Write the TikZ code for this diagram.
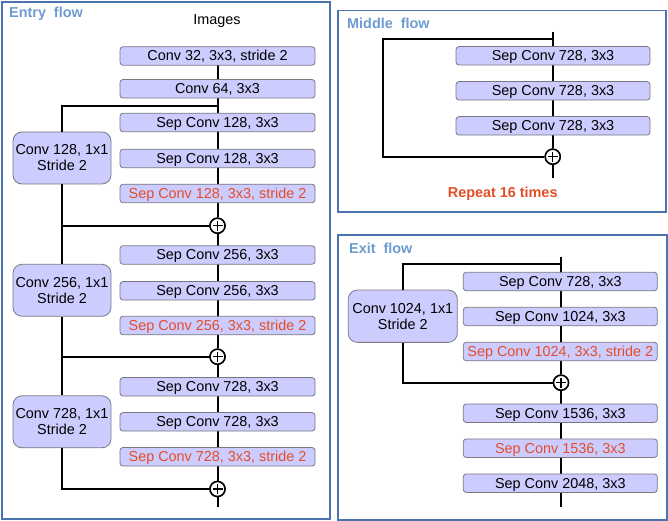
\documentclass[tikz,border=0pt]{standalone}
\usepackage{fontspec}
\setmainfont{Liberation Sans}
\definecolor{boxfill}{RGB}{204,204,255}
\definecolor{boxline}{RGB}{120,120,130}
\definecolor{redtxt}{RGB}{228,78,38}
\definecolor{titletxt}{RGB}{110,155,210}
\definecolor{framecol}{RGB}{75,115,175}
\begin{document}
\begin{tikzpicture}[x=1pt,y=-1pt,
  every node/.style={font=\fontsize{14.4}{16}\selectfont, inner sep=0pt},
  conv/.style={draw=boxline, fill=boxfill, line width=0.8pt, rounded corners=3pt, minimum width=195pt, minimum height=18.5pt, text height=10.4pt, text depth=0.5pt},
  res/.style={draw=boxline, fill=boxfill, line width=0.8pt, rounded corners=9pt, minimum height=52pt, align=center},
  red/.style={text=redtxt},
  plusnode/.style={circle, draw=black, fill=white, line width=1.5pt, minimum size=15pt,
    path picture={\draw[line width=1.2pt] ([yshift=-5pt]path picture bounding box.center) -- ([yshift=5pt]path picture bounding box.center)
      ([xshift=-5pt]path picture bounding box.center) -- ([xshift=5pt]path picture bounding box.center);}},
  conn/.style={line width=2pt, black},
  frame/.style={draw=framecol, line width=1.5pt},
  ttl/.style={text=titletxt, font=\fontsize{14.4}{16}\selectfont\bfseries, anchor=west}
]
\useasboundingbox (0,0) rectangle (668,521);
% frames
\draw[frame] (2,2) rectangle (330,519);
\draw[frame] (338,10.7) rectangle (666,212);
\draw[frame] (338,235) rectangle (667,520);
\node[ttl] (t1) at (9,13.5) {Entry\ \ flow};
\node[ttl] (t2) at (347,23) {Middle\ \ flow};
\node[ttl] (t3) at (349,248) {Exit\ \ flow};

% ---------- Entry flow ----------
\node (img) at (217,21) {Images};
\coordinate (b1) at (217.5,106);
\coordinate (e1) at (217.5,506.7);
\node[plusnode] (p1) at (217.5,225.7) {};
\node[plusnode] (p2) at (217.5,356.7) {};
\node[plusnode] (p3) at (217.5,489) {};

\draw[conn] (217.5,56) -- (b1) -- (217.5,158.5) -- (p1) -- (217.5,290.8) -- (p2) -- (217.5,421.8) -- (p3) -- (e1);

\node[res, minimum width=98pt] (r1) at (62,158) {Conv 128, 1x1\\Stride 2};
\node[res, minimum width=98pt] (r2) at (62,290.3) {Conv 256, 1x1\\Stride 2};
\node[res, minimum width=98pt] (r3) at (62,421.8) {Conv 728, 1x1\\Stride 2};

\draw[conn] (b1) -| (r1.north);
\draw[conn] (r1.south) |- (p1.west);
\draw[conn] (r1.south |- p1) -- (r2.north);
\draw[conn] (r2.south) |- (p2.west);
\draw[conn] (r2.south |- p2) -- (r3.north);
\draw[conn] (r3.south) |- (p3.west);

\node[conv] (c32) at (217.5,56) {Conv 32, 3x3, stride 2};
\node[conv] (c64) at (217.5,88.8) {Conv 64, 3x3};
\node[conv] (s128a) at (217.5,122.5) {Sep Conv 128, 3x3};
\node[conv] (s128b) at (217.5,158.5) {Sep Conv 128, 3x3};
\node[conv, red] (s128c) at (217.5,193.5) {Sep Conv 128, 3x3, stride 2};
\node[conv] (s256a) at (217.5,255) {Sep Conv 256, 3x3};
\node[conv] (s256b) at (217.5,290.8) {Sep Conv 256, 3x3};
\node[conv, red] (s256c) at (217.5,325.5) {Sep Conv 256, 3x3, stride 2};
\node[conv] (s728a) at (217.5,386.8) {Sep Conv 728, 3x3};
\node[conv] (s728b) at (217.5,421.8) {Sep Conv 728, 3x3};
\node[conv, red] (s728c) at (217.5,456.8) {Sep Conv 728, 3x3, stride 2};
\node[plusnode] at (p1) {};
\node[plusnode] at (p2) {};
\node[plusnode] at (p3) {};

% ---------- Middle flow ----------
\coordinate (mt) at (552.7,31.7);
\coordinate (mb) at (552.7,39);
\coordinate (ml) at (382.7,39);
\coordinate (me) at (552.7,178);
\node[plusnode] (mp) at (552.7,156.7) {};
\draw[conn] (mt) -- (mb) -- (mp) -- (me);
\draw[conn] (mb) -- (ml) |- (mp.west);
\node[conv, minimum width=194pt] (m1) at (553,55.8) {Sep Conv 728, 3x3};
\node[conv, minimum width=194pt] (m2) at (553,90.8) {Sep Conv 728, 3x3};
\node[conv, minimum width=194pt] (m3) at (553,125.8) {Sep Conv 728, 3x3};
\node[plusnode] at (mp) {};
\node[text=redtxt, font=\fontsize{14.4}{16}\selectfont\bfseries] (rep) at (502.7,193.3) {Repeat 16 times};

% ---------- Exit flow ----------
\coordinate (xt) at (561,256.7);
\coordinate (xb) at (561,264.3);
\coordinate (xe) at (561,506.7);
\node[plusnode] (xp) at (561,382.7) {};
\draw[conn] (xt) -- (xb) -- (xp) -- (xe);
\node[res, minimum width=109pt, minimum height=52.3pt] (xr) at (402.8,316.2) {Conv 1024, 1x1\\Stride 2};
\draw[conn] (xb) -| (xr.north);
\draw[conn] (xr.south) |- (xp.west);
\node[conv, minimum width=194pt] (x1) at (560.3,281.5) {Sep Conv 728, 3x3};
\node[conv, minimum width=194pt] (x2) at (560.3,316.5) {Sep Conv 1024, 3x3};
\node[conv, minimum width=194pt, red] (x3) at (560.3,351.5) {Sep Conv 1024, 3x3, stride 2};
\node[conv, minimum width=194pt] (x4) at (560.3,413.2) {Sep Conv 1536, 3x3};
\node[conv, minimum width=194pt, red] (x5) at (560.3,448.2) {Sep Conv 1536, 3x3};
\node[conv, minimum width=194pt] (x6) at (560.3,483.2) {Sep Conv 2048, 3x3};
\node[plusnode] at (xp) {};
\end{tikzpicture}
\end{document}
